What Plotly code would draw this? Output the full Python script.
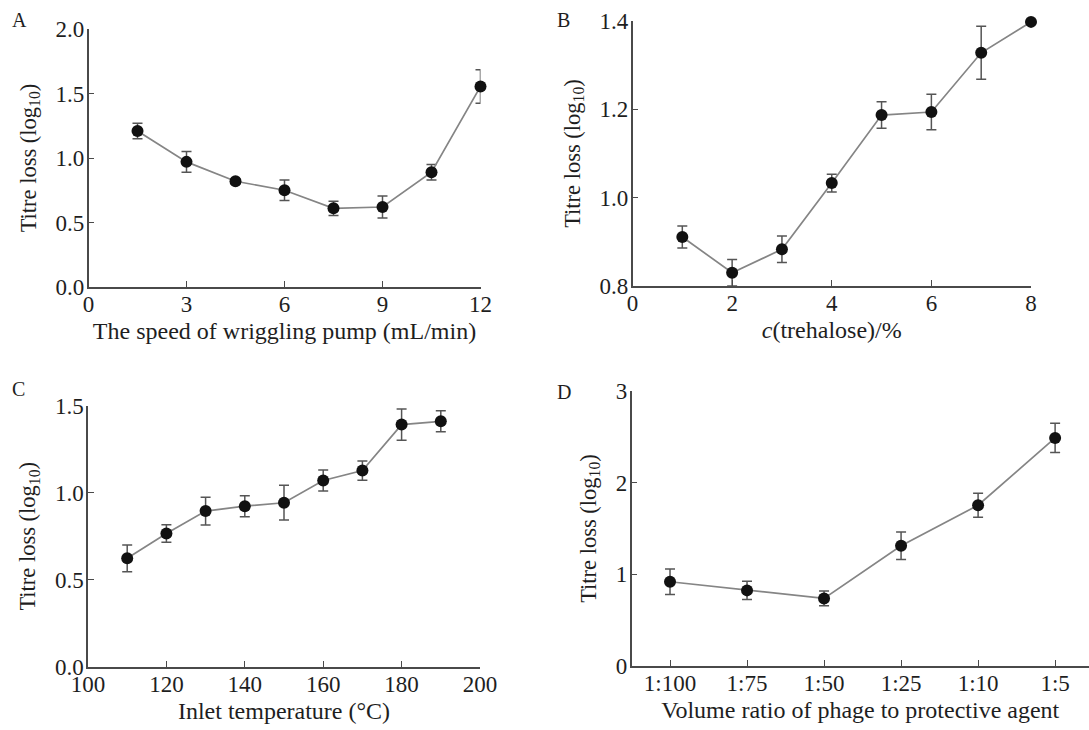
import plotly.graph_objects as go

# Panel A
a_x = [1.5, 3, 4.5, 6, 7.5, 9, 10.5, 12]
a_y = [1.21, 0.97, 0.82, 0.75, 0.61, 0.62, 0.89, 1.555]
a_err = [0.06, 0.08, 0.02, 0.08, 0.055, 0.085, 0.06, 0.13]
# Panel B
b_x = [1, 2, 3, 4, 5, 6, 7, 8]
b_y = [0.911, 0.830, 0.883, 1.033, 1.187, 1.194, 1.328, 1.398]
b_err = [0.025, 0.03, 0.03, 0.02, 0.03, 0.04, 0.06, 0.0]
# Panel C
c_x = [110, 120, 130, 140, 150, 160, 170, 180, 190]
c_y = [0.623, 0.766, 0.895, 0.923, 0.943, 1.071, 1.128, 1.393, 1.412]
c_err = [0.077, 0.05, 0.08, 0.06, 0.10, 0.06, 0.055, 0.09, 0.06]
# Panel D
d_cats = ["1:100", "1:75", "1:50", "1:25", "1:10", "1:5"]
d_y = [0.919, 0.825, 0.737, 1.311, 1.754, 2.488]
d_err = [0.14, 0.10, 0.08, 0.15, 0.13, 0.16]

FONT = "Liberation Serif"
LINE_C = "#858585"
AX_C = "#4a4a4a"
ERR_C = "#555555"
TXT_C = "#1e1e1e"

fig = go.Figure()

def add(x, y, err, xa, ya):
    fig.add_trace(go.Scatter(
        x=x, y=y, xaxis=xa, yaxis=ya, mode="lines+markers",
        line=dict(color=LINE_C, width=1.7),
        marker=dict(color="#111111", size=12),
        error_y=dict(type="data", array=err, visible=True, color=ERR_C,
                     thickness=1.5, width=5),
        showlegend=False, cliponaxis=False))

add(a_x, a_y, a_err, "x", "y")
add(b_x, b_y, b_err, "x2", "y2")
add(c_x, c_y, c_err, "x3", "y3")
add(list(range(len(d_cats))), d_y, d_err, "x4", "y4")

W, H = 1089, 730
def dx(p0, p1):
    return [p0 / W, p1 / W]
def dy(p0, p1):
    return [1 - p1 / H, 1 - p0 / H]

ax_common = dict(showline=True, linecolor=AX_C, linewidth=1.5, ticks="inside",
                 ticklen=6, tickwidth=1.3, tickcolor=AX_C, showgrid=False,
                 zeroline=False, automargin=False,
                 tickfont=dict(family=FONT, size=23, color=TXT_C))
xt_font = dict(family=FONT, size=24, color=TXT_C)
yt_font = dict(family=FONT, size=22.5, color=TXT_C)
XS, YS = 6, 13
XL = dict(ticklabelstandoff=-4)
YL = dict(ticklabelstandoff=-2)

layout = dict(
    width=W, height=H, margin=dict(l=0, r=0, t=0, b=0),
    paper_bgcolor="white", plot_bgcolor="white", template="none",
    xaxis=dict(domain=dx(88.5, 480.5), range=[0, 12], tickvals=[0, 3, 6, 9, 12],
               anchor="y", title=dict(text="The speed of wriggling pump (mL/min)", standoff=XS, font=xt_font), **XL, **ax_common),
    yaxis=dict(domain=dy(29, 287), range=[0, 2.0], tickvals=[0, 0.5, 1.0, 1.5, 2.0],
               tickformat=".1f", anchor="x",
               title=dict(text="Titre loss (log<sub>10</sub>)", standoff=YS, font=yt_font), **YL, **ax_common),
    xaxis2=dict(domain=dx(632.5, 1031), range=[0, 8], tickvals=[0, 2, 4, 6, 8],
                anchor="y2", title=dict(text="<i>c</i>(trehalose)/%", standoff=XS, font=xt_font), **XL, **ax_common),
    yaxis2=dict(domain=dy(21, 286), range=[0.8, 1.4], tickvals=[0.8, 1.0, 1.2, 1.4],
                tickformat=".1f", anchor="x2",
                title=dict(text="Titre loss (log<sub>10</sub>)", standoff=YS, font=yt_font), **YL, **ax_common),
    xaxis3=dict(domain=dx(88, 480), range=[100, 200], tickvals=[100, 120, 140, 160, 180, 200],
                anchor="y3", title=dict(text="Inlet temperature (°C)", standoff=XS, font=xt_font), **XL, **ax_common),
    yaxis3=dict(domain=dy(406, 666.5), range=[0, 1.5], tickvals=[0, 0.5, 1.0, 1.5],
                tickformat=".1f", anchor="x3",
                title=dict(text="Titre loss (log<sub>10</sub>)", standoff=YS, font=yt_font), **YL, **ax_common),
    xaxis4=dict(domain=dx(631.5, 1089), range=[-0.5, 5.44], tickvals=list(range(len(d_cats))),
                ticktext=d_cats, anchor="y4",
                title=dict(text="Volume ratio of phage to protective agent", standoff=XS, font=xt_font), **XL, **ax_common),
    yaxis4=dict(domain=dy(391, 666), range=[0, 3], tickvals=[0, 1, 2, 3], anchor="x4",
                title=dict(text="Titre loss (log<sub>10</sub>)", standoff=YS, font=yt_font), **YL, **ax_common),
)
fig.update_layout(**layout)

letters = [("A", 10, 20), ("B", 555, 20), ("C", 10, 389), ("D", 555, 392)]
for t, px, py in letters:
    fig.add_annotation(text=t, x=px / W, y=1 - py / H, xref="paper", yref="paper",
                       showarrow=False, xanchor="left", yanchor="middle",
                       font=dict(family=FONT, size=20, color=TXT_C))

fig.write_html("out.html")
